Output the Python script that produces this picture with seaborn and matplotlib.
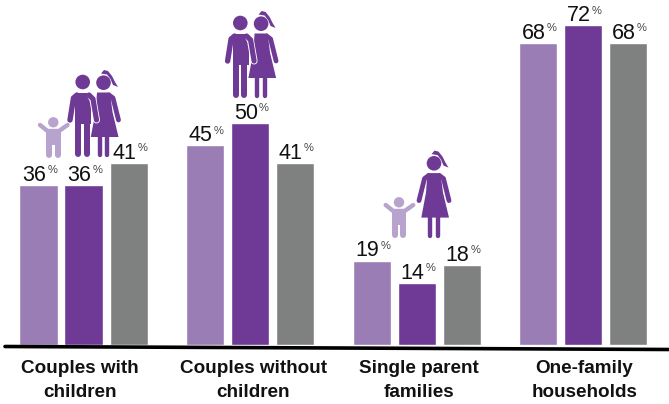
import pandas as pd
import seaborn as sns
import matplotlib.pyplot as plt
from matplotlib.lines import Line2D
from matplotlib.patches import Circle, Polygon
from matplotlib.transforms import ScaledTranslation

categories = ["Couples with\nchildren", "Couples without\nchildren", "Single parent\nfamilies", "One-family\nhouseholds"]
series_names = ["first", "second", "third"]
first_values = [36, 45, 19, 68]
second_values = [36, 50, 14, 72]
third_values = [41, 41, 18, 68]

LIGHT = "#9B7DB6"
DARK = "#6E3A96"
GREY = "#7F8180"
CHILD = "#B7A3CE"

sns.set_style("white")
plt.rcParams["font.family"] = ["Liberation Sans", "DejaVu Sans"]

df = pd.DataFrame({
    "category": categories * 3,
    "series": [s for s in series_names for _ in categories],
    "value": first_values + second_values + third_values,
})

fig = plt.figure(figsize=(6.69, 4.04), dpi=100)
ax = fig.add_axes([0, (404 - 345) / 404, 1, 345 / 404])
sns.barplot(data=df, x="category", y="value", hue="series", ax=ax, legend=False,
            palette=[LIGHT, DARK, GREY], saturation=1, width=0.811, gap=0.155, errorbar=None)
ax.set_xlim(-0.5015, 3.516)
ax.set_ylim(0, 345 / 4.44)
ax.set_xlabel("")
ax.set_ylabel("")
ax.set_yticks([])
sns.despine(ax=ax, left=True, bottom=True, top=True, right=True)
ax.patch.set_alpha(0)

# value labels, number and small percent sign side by side
for bar in ax.patches:
    if bar.get_height() == 0:
        continue
    cx = bar.get_x() + bar.get_width() / 2
    top = bar.get_height()
    ax.annotate(f"{top:.0f}", (cx, top), xytext=(5.6, 3.0), textcoords="offset points",
                ha="right", va="baseline", fontsize=15.5, color="#111111")
    ax.annotate("%", (cx, top), xytext=(6.4, 8.4), textcoords="offset points",
                ha="left", va="baseline", fontsize=8, color="#444444")

# category labels sit slightly off the bar group centres
ax.tick_params(axis="x", length=0, pad=10.5)
nudges = [-4, 3, 2.5, 1.5]
for lab, dx in zip(ax.get_xticklabels(), nudges):
    lab.set_fontweight("bold")
    lab.set_fontsize(13.6)
    lab.set_linespacing(1.6)
    lab.set_color("#111111")
    lab.set_transform(lab.get_transform() + ScaledTranslation(dx / 100, 0, fig.dpi_scale_trans))

# overlay in pixel coordinates for the baseline and the pictograms
over = fig.add_axes([0, 0, 1, 1])
over.set_xlim(0, 669)
over.set_ylim(404, 0)
over.axis("off")
over.add_line(Line2D([5, 669], [346.5, 349.5], color="black", lw=2.6))


def stroke(xs, ys, w, color):
    over.add_line(Line2D(xs, ys, color=color, lw=w * 0.72, solid_capstyle="round", solid_joinstyle="round"))


def man(dx, dy, color=DARK):
    over.add_patch(Circle((82.7 + dx, 82 + dy), 7.3, color=color, lw=0))
    over.add_patch(Polygon([(75 + dx, 92.5 + dy), (91 + dx, 92.5 + dy), (91 + dx, 124 + dy), (75 + dx, 124 + dy)],
                           closed=True, color=color, lw=0))
    stroke([77 + dx, 73.5 + dx, 70 + dx], [95 + dy, 98 + dy, 120 + dy], 5.4, color)
    stroke([78 + dx, 78 + dx], [120 + dy, 154 + dy], 6, color)
    stroke([86.7 + dx, 86.7 + dx], [120 + dy, 154 + dy], 6, color)
    # right arm passes in front of the woman, with a thin white edge
    stroke([91 + dx, 93 + dx, 96.5 + dx], [96 + dy, 100 + dy, 120 + dy], 7, "white")
    stroke([89 + dx, 93 + dx, 96.5 + dx], [95 + dy, 99 + dy, 120 + dy], 5.2, color)


def woman(dx, dy, color=DARK):
    over.add_patch(Polygon([(97 + dx, 92.5 + dy), (110 + dx, 92.5 + dy), (112.5 + dx, 112 + dy), (118.5 + dx, 137 + dy),
                            (90.8 + dx, 137 + dy), (95.5 + dx, 112 + dy)],
                           closed=True, color=color, lw=0))
    over.add_patch(Circle((103.5 + dx, 82.7 + dy), 7.3, color=color, lw=0))
    # ponytail
    over.add_patch(Polygon([(101 + dx, 73.5 + dy), (104 + dx, 70 + dy), (108 + dx, 71 + dy), (112 + dx, 76 + dy),
                            (115 + dx, 82 + dy), (118 + dx, 87 + dy), (113 + dx, 85 + dy), (110.5 + dx, 79 + dy),
                            (107 + dx, 74.5 + dy)],
                           closed=True, color=color, lw=0))
    stroke([109 + dx, 113 + dx, 118.5 + dx], [95 + dy, 98 + dy, 120 + dy], 4.8, color)
    stroke([99.7 + dx, 99.7 + dx], [135 + dy, 155 + dy], 4.4, color)
    stroke([107.3 + dx, 107.3 + dx], [135 + dy, 155 + dy], 4.4, color)


def woman_alone(dx, dy, color=DARK):
    woman(dx, dy, color)
    stroke([98 + dx, 94 + dx, 88.5 + dx], [95 + dy, 98 + dy, 120 + dy], 4.8, color)


def child(dx, dy, color=CHILD):
    over.add_patch(Circle((53.3 + dx, 122.3 + dy), 5.2, color=color, lw=0))
    stroke([40 + dx, 47.5 + dx, 59 + dx, 67.5 + dx], [125 + dy, 131 + dy, 131 + dy, 125 + dy], 4.4, color)
    over.add_patch(Polygon([(46 + dx, 129 + dy), (60.5 + dx, 129 + dy), (60.5 + dx, 145 + dy), (46 + dx, 145 + dy)],
                           closed=True, color=color, lw=0))
    stroke([49 + dx, 49 + dx], [143 + dy, 154.5 + dy], 6, color)
    stroke([57.5 + dx, 57.5 + dx], [143 + dy, 154.5 + dy], 6, color)


child(0, 0)
woman(0, 0)
man(0, 0)
woman(157.6, -59)
man(157.6, -59)
child(345.7, 80)
woman_alone(330.5, 80.6)

fig.savefig("out.png", dpi=100)
